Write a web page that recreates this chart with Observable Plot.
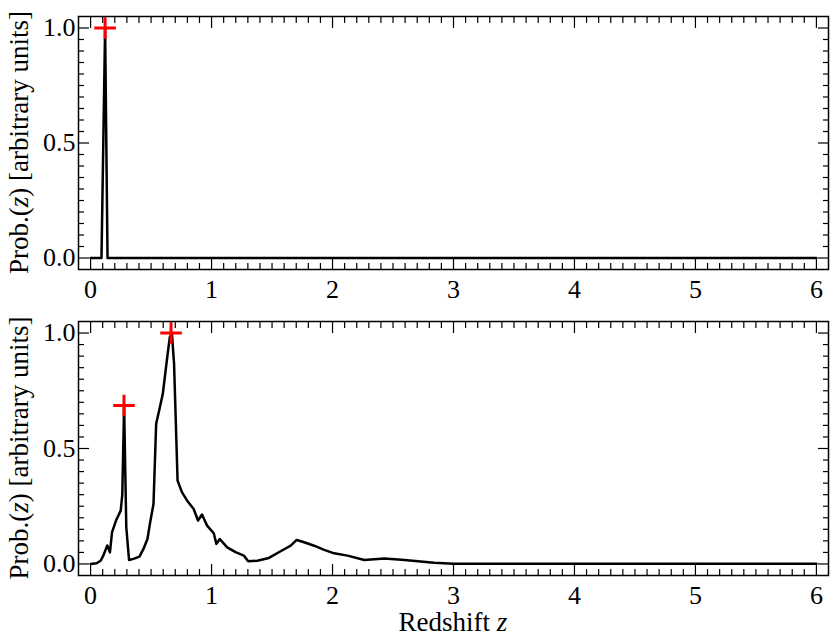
<!DOCTYPE html>
<html><head><meta charset="utf-8">
<script src="https://cdn.jsdelivr.net/npm/d3@7"></script>
<script src="https://cdn.jsdelivr.net/npm/@observablehq/plot@0.6"></script>
<style>body{margin:0;background:#fff;} #chart svg{display:block;}</style>
</head><body><div id="chart"></div>
<script>
// Top panel: sharp single peak
const zTop = [0, 0.09, 0.12, 0.14, 6.0];
const pTop = [0, 0, 1.0, 0, 0];
const peakTopZ = [0.12];
const peakTopP = [1.0];

// Bottom panel: broad multi-peak distribution
const zBot = [0, 0.05, 0.083, 0.105, 0.138, 0.16, 0.177, 0.21, 0.249, 0.262, 0.277, 0.295, 0.318, 0.354, 0.404, 0.437, 0.47, 0.49, 0.52, 0.542, 0.57, 0.597, 0.63, 0.655, 0.672, 0.69, 0.719, 0.755, 0.797, 0.852, 0.888, 0.921, 0.963, 1.018, 1.04, 1.068, 1.129, 1.198, 1.267, 1.303, 1.378, 1.474, 1.571, 1.654, 1.704, 1.765, 1.848, 1.931, 2.014, 2.124, 2.263, 2.429, 2.595, 2.84, 3.0, 6.0];
const pBot = [0, 0.003, 0.014, 0.036, 0.08, 0.05, 0.137, 0.188, 0.231, 0.30, 0.686, 0.159, 0.017, 0.022, 0.032, 0.065, 0.108, 0.173, 0.26, 0.607, 0.672, 0.737, 0.88, 0.983, 1.0, 0.867, 0.361, 0.311, 0.275, 0.238, 0.188, 0.214, 0.166, 0.133, 0.087, 0.108, 0.072, 0.051, 0.036, 0.012, 0.014, 0.026, 0.055, 0.079, 0.104, 0.094, 0.079, 0.061, 0.046, 0.036, 0.017, 0.024, 0.017, 0.005, 0.001, 0.001];
const peakBotZ = [0.276, 0.665];
const peakBotP = [0.686, 1.0];

// Axes
const xDomain = [-0.1, 6.1];
const yDomain = [-0.05, 1.05];
const xMajor = [0, 1, 2, 3, 4, 5, 6];
const yMajor = [0, 0.5, 1.0];
const xMinor = d3.range(0, 61).map(i => i / 10).filter(v => !xMajor.includes(v));
const yMinor = d3.range(0, 21).map(i => i / 20).filter(v => !yMajor.includes(v));

const FONT = "'Liberation Serif', 'DejaVu Serif', serif";

function panel(zs, ps, pkz, pkp, o) {
  const data = zs.map((z, i) => ({z, p: ps[i]}));
  const peaks = pkz.map((z, i) => ({z, p: pkp[i]}));
  const tk = {strokeWidth: 1.2, text: null};
  const svg = Plot.plot({
    width: 831, height: o.height,
    marginLeft: 78, marginRight: 3, marginTop: o.mt, marginBottom: o.mb,
    style: {fontFamily: FONT, fontSize: "26px", background: "white", color: "black", overflow: "visible"},
    x: {domain: xDomain, label: null},
    y: {domain: yDomain, label: null},
    marks: [
      Plot.axisX(xMajor, {anchor: "bottom", tickSize: -11, ...tk}),
      Plot.axisX(xMajor, {anchor: "top", tickSize: -11, ...tk}),
      Plot.axisX(xMinor, {anchor: "bottom", tickSize: -6, ...tk}),
      Plot.axisX(xMinor, {anchor: "top", tickSize: -6, ...tk}),
      Plot.axisY(yMajor, {anchor: "left", tickSize: -11, ...tk}),
      Plot.axisY(yMajor, {anchor: "right", tickSize: -11, ...tk}),
      Plot.axisY(yMinor, {anchor: "left", tickSize: -6, ...tk}),
      Plot.axisY(yMinor, {anchor: "right", tickSize: -6, ...tk}),
      Plot.axisX(xMajor, {anchor: "bottom", tickSize: 0, tickPadding: 10, fontSize: 26, tickFormat: d => String(d)}),
      Plot.axisY(yMajor, {anchor: "left", tickSize: 0, tickPadding: 3, fontSize: 26, tickFormat: d3.format(".1f")}),
      Plot.line(data, {x: "z", y: "p", stroke: "black", strokeWidth: 2.5}),
      Plot.dot(peaks, {x: "z", y: "p", symbol: "plus", stroke: "red", strokeWidth: 3, r: 7}),
      Plot.frame({stroke: "black", strokeWidth: 1.5})
    ]
  });
  const s = d3.select(svg);
  const cy = o.mt + (o.height - o.mt - o.mb) / 2;
  const t = s.append("text")
    .attr("transform", `translate(19,${cy}) rotate(-90)`)
    .attr("text-anchor", "middle").attr("dy", "0.35em")
    .attr("font-family", FONT).attr("font-size", 27).attr("fill", "black");
  t.append("tspan").text("Prob.(");
  t.append("tspan").attr("font-style", "italic").text("z");
  t.append("tspan").text(") [arbitrary units]");
  if (o.xlabel) {
    const xl = s.append("text")
      .attr("x", 453).attr("y", o.height - 15)
      .attr("text-anchor", "middle").attr("dy", "0.35em")
      .attr("font-family", FONT).attr("font-size", 27).attr("fill", "black");
    xl.append("tspan").text("Redshift ");
    xl.append("tspan").attr("font-style", "italic").text("z");
  }
  return svg;
}

const root = document.getElementById("chart");
root.appendChild(panel(zTop, pTop, peakTopZ, peakTopP, {height: 300, mt: 16, mb: 31}));
root.appendChild(panel(zBot, pBot, peakBotZ, peakBotP, {height: 337, mt: 21, mb: 62, xlabel: true}));
</script>
</body></html>
